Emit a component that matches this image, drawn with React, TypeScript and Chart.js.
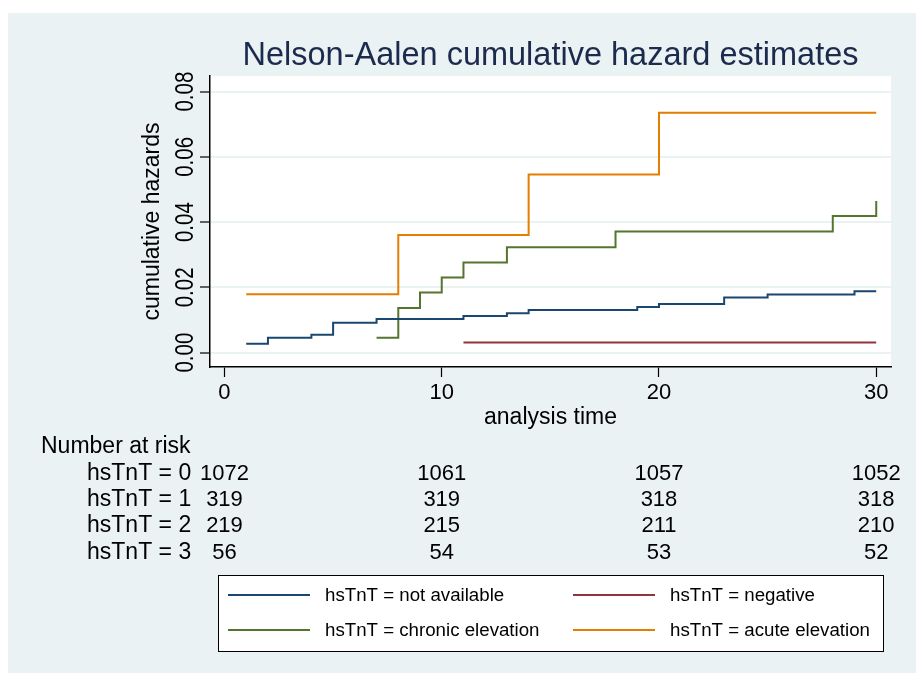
import React, { useEffect, useRef } from "react";
import { Chart, registerables } from "chart.js";

Chart.register(...registerables);

// ---- Data ----
const TITLE = "Nelson-Aalen cumulative hazard estimates";
const X_TITLE = "analysis time";
const Y_TITLE = "cumulative hazards";
const X_TICKS = [0, 10, 20, 30];
const Y_TICKS = [0, 0.02, 0.04, 0.06, 0.08];

const SERIES_NAMES = [
  "hsTnT = not available",
  "hsTnT = negative",
  "hsTnT = chronic elevation",
  "hsTnT = acute elevation",
];
const SERIES_COLORS = ["#1a476f", "#90353b", "#55752f", "#e37e00"];

const NOTAVAIL_T = [1, 2, 4, 5, 7, 11, 13, 14, 19, 20, 23, 25, 29, 30];
const NOTAVAIL_H = [0.0027, 0.0046, 0.0055, 0.0092, 0.0103, 0.0112, 0.0121, 0.0131, 0.014, 0.0149, 0.0169, 0.0178, 0.0188, 0.0188];

const NEGATIVE_T = [11, 30];
const NEGATIVE_H = [0.0031, 0.0031];

const CHRONIC_T = [7, 8, 9, 10, 11, 13, 18, 28, 30];
const CHRONIC_H = [0.0046, 0.0137, 0.0184, 0.023, 0.0276, 0.0323, 0.0371, 0.0419, 0.0465];

const ACUTE_T = [1, 8, 14, 20, 30];
const ACUTE_H = [0.0179, 0.0361, 0.0546, 0.0735, 0.0735];

const RISK_HEADER = "Number at risk";
const RISK_TIMES = [0, 10, 20, 30];
const RISK_LABELS = ["hsTnT = 0", "hsTnT = 1", "hsTnT = 2", "hsTnT = 3"];
const RISK_ROW0 = [1072, 1061, 1057, 1052];
const RISK_ROW1 = [319, 319, 318, 318];
const RISK_ROW2 = [219, 215, 211, 210];
const RISK_ROW3 = [56, 54, 53, 52];
const RISK_ROWS = [RISK_ROW0, RISK_ROW1, RISK_ROW2, RISK_ROW3];

// ---- Style ----
const W = 916;
const H = 674;
const BG = "#eaf2f3";
const FONT = "'Liberation Sans', Arial, Helvetica, sans-serif";
const TITLE_COLOR = "#1c2b4d";

function pts(t: number[], h: number[]) {
  return t.map((x, i) => ({ x, y: h[i] }));
}

const decorPlugin = {
  id: "decor",
  beforeDraw(chart: any) {
    const { ctx, chartArea } = chart;
    ctx.save();
    ctx.fillStyle = "#ffffff";
    ctx.fillRect(0, 0, W, H);
    ctx.fillStyle = BG;
    ctx.fillRect(8, 13, W - 8, H - 14);
    ctx.fillStyle = "#ffffff";
    ctx.fillRect(chartArea.left, chartArea.top, chartArea.right - chartArea.left, chartArea.bottom - chartArea.top);
    ctx.restore();
  },
  afterDraw(chart: any) {
    const { ctx, chartArea, scales } = chart;
    const xs = scales.x;
    const ys = scales.y;
    ctx.save();
    ctx.textBaseline = "alphabetic";

    // Title
    ctx.fillStyle = TITLE_COLOR;
    ctx.font = `32.5px ${FONT}`;
    ctx.textAlign = "center";
    ctx.fillText(TITLE, (chartArea.left + chartArea.right) / 2, 65);

    ctx.fillStyle = "#000000";
    // Y tick labels (rotated)
    Y_TICKS.forEach((v) => {
      const y = ys.getPixelForValue(v);
      ctx.save();
      ctx.translate(193, y);
      ctx.rotate(-Math.PI / 2);
      ctx.scale(0.82, 1);
      ctx.font = `25px ${FONT}`;
      ctx.textAlign = "center";
      ctx.fillText(v.toFixed(2), 0, 0);
      ctx.restore();
    });

    // Y title
    ctx.save();
    ctx.translate(159, (chartArea.top + chartArea.bottom) / 2);
    ctx.rotate(-Math.PI / 2);
    ctx.font = `23px ${FONT}`;
    ctx.textAlign = "center";
    ctx.fillText(Y_TITLE, 0, 0);
    ctx.restore();

    // X tick labels
    ctx.font = `22px ${FONT}`;
    ctx.textAlign = "center";
    X_TICKS.forEach((v) => {
      ctx.fillText(String(v), xs.getPixelForValue(v), 399);
    });
    // X title
    ctx.font = `23px ${FONT}`;
    ctx.fillText(X_TITLE, (chartArea.left + chartArea.right) / 2, 424);

    // Risk table
    ctx.font = `23px ${FONT}`;
    ctx.textAlign = "left";
    ctx.fillText(RISK_HEADER, 41, 453);
    RISK_LABELS.forEach((lab, r) => {
      const by = 479.5 + r * 26.4;
      ctx.font = `23px ${FONT}`;
      ctx.textAlign = "left";
      ctx.fillText(lab, 87, by);
      ctx.font = `22px ${FONT}`;
      ctx.textAlign = "center";
      RISK_ROWS[r].forEach((n, c) => {
        ctx.fillText(String(n), xs.getPixelForValue(RISK_TIMES[c]), by);
      });
    });

    // Legend
    const lx = 218, ly = 575, lw = 665, lh = 76;
    ctx.fillStyle = "#ffffff";
    ctx.fillRect(lx, ly, lw, lh);
    ctx.strokeStyle = "#000000";
    ctx.lineWidth = 1;
    ctx.strokeRect(lx + 0.5, ly + 0.5, lw, lh);
    const cols = [228, 573];
    const rows = [595, 630];
    ctx.font = `18.7px ${FONT}`;
    ctx.textAlign = "left";
    ctx.textBaseline = "middle";
    SERIES_NAMES.forEach((name, i) => {
      const cx = cols[i % 2];
      const cy = rows[Math.floor(i / 2)];
      ctx.strokeStyle = SERIES_COLORS[i];
      ctx.lineWidth = 2;
      ctx.beginPath();
      ctx.moveTo(cx, cy);
      ctx.lineTo(cx + 82, cy);
      ctx.stroke();
      ctx.fillStyle = "#000000";
      ctx.fillText(name, cx + 97, cy + 1);
    });
    ctx.restore();
  },
};

export default function App() {
  const ref = useRef<HTMLCanvasElement | null>(null);
  useEffect(() => {
    if (!ref.current) return;
    const seriesData = [
      pts(NOTAVAIL_T, NOTAVAIL_H),
      pts(NEGATIVE_T, NEGATIVE_H),
      pts(CHRONIC_T, CHRONIC_H),
      pts(ACUTE_T, ACUTE_H),
    ];
    const chart = new Chart(ref.current, {
      type: "line",
      data: {
        datasets: seriesData.map((d, i) => ({
          label: SERIES_NAMES[i],
          data: d,
          borderColor: SERIES_COLORS[i],
          backgroundColor: SERIES_COLORS[i],
          borderWidth: 2,
          pointRadius: 0,
          stepped: "before" as const,
          fill: false,
        })),
      },
      options: {
        responsive: false,
        animation: false,
        devicePixelRatio: 1,
        events: [],
        layout: { padding: { left: 200, right: 25, top: 76, bottom: 297 } },
        plugins: {
          legend: { display: false },
          title: { display: false },
          tooltip: { enabled: false },
        },
        scales: {
          x: {
            type: "linear",
            min: -0.667,
            max: 30.68,
            afterBuildTicks: (s: any) => {
              s.ticks = X_TICKS.map((v) => ({ value: v }));
            },
            afterFit: (s: any) => {
              s.height = 10;
            },
            ticks: { display: false },
            grid: {
              drawOnChartArea: false,
              drawTicks: true,
              tickLength: 10,
              tickColor: "#000000",
              tickWidth: 1.2,
            },
            border: { display: true, color: "#000000", width: 1.5 },
          },
          y: {
            type: "linear",
            min: -0.0044,
            max: 0.0848,
            afterBuildTicks: (s: any) => {
              s.ticks = Y_TICKS.map((v) => ({ value: v }));
            },
            afterFit: (s: any) => {
              s.width = 10;
            },
            ticks: { display: false },
            grid: {
              color: BG,
              lineWidth: 2,
              drawTicks: true,
              tickLength: 10,
              tickColor: "#000000",
              tickWidth: 1.2,
            },
            border: { display: true, color: "#000000", width: 1.5 },
          },
        },
      },
      plugins: [decorPlugin],
    } as any);
    return () => chart.destroy();
  }, []);
  return (
    <canvas
      ref={ref}
      width={W}
      height={H}
      style={{ position: "fixed", left: 0, top: 0, width: W, height: H }}
    />
  );
}
